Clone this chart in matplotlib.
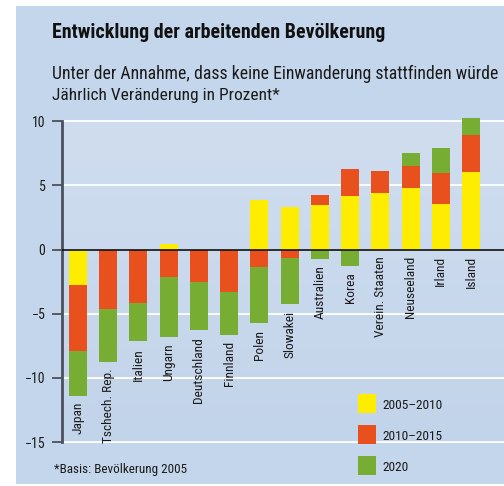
import numpy as np
import matplotlib
matplotlib.use("Agg")
import matplotlib.pyplot as plt
import matplotlib.font_manager as fm
from matplotlib.patches import Rectangle
from matplotlib.colors import LinearSegmentedColormap

# ---------------- data ----------------
countries = ["Japan", "Tschech. Rep.", "Italien", "Ungarn", "Deutschland", "Finnland",
             "Polen", "Slowakei", "Australien", "Korea", "Verein. Staaten", "Neuseeland",
             "Irland", "Island"]
p2005_2010 = [-2.8, 0.0, 0.0, 0.47, 0.0, 0.0, 3.9, 3.3, 3.48, 4.18, 4.42, 4.8, 3.56, 6.05]
p2010_2015 = [-5.1, -4.67, -4.15, -2.13, -2.52, -3.3, -1.35, -0.62, 0.78, 2.1, 1.71, 1.72, 2.41, 2.88]
p2020 = [-3.48, -4.13, -3.01, -4.72, -3.78, -3.32, -4.41, -3.66, -0.7, -1.25, 0.0, 1.01, 1.95, 1.33]
series_names = ["2005\u20132010", "2010\u20132015", "2020"]
yticks = [10, 5, 0, -5, -10, -15]

title = "Entwicklung der arbeitenden Bevölkerung"
subtitle1 = "Unter der Annahme, dass keine Einwanderung stattfinden würde"
subtitle2 = "Jährlich Veränderung in Prozent*"
footnote = "*Basis: Bevölkerung 2005"

colors = ["#ffed00", "#e8501e", "#77ad32"]

# ---------------- fonts ----------------
names = {f.name for f in fm.fontManager.ttflist}
fam = "DejaVu Sans"
stretch = "normal"
for cand in ["Liberation Sans Narrow", "Roboto Condensed", "Open Sans Condensed", "Noto Sans Condensed"]:
    if cand in names:
        fam = cand
        break
else:
    if any(f.name == "DejaVu Sans" and f.stretch == "condensed" for f in fm.fontManager.ttflist):
        stretch = "condensed"
plt.rcParams["font.family"] = [fam, "DejaVu Sans"]
plt.rcParams["font.stretch"] = stretch

W, H = 504, 486
fig = plt.figure(figsize=(W / 100, H / 100), dpi=100, facecolor="white")

def fx(px):
    return px / W

def fy(py):
    return 1 - py / H

panel_col = "#c4d6eb"
fig.add_artist(Rectangle((fx(16), fy(484)), fx(504 - 16), (484 - 6) / H,
                         transform=fig.transFigure, facecolor=panel_col,
                         edgecolor="none", zorder=-10))

ax = fig.add_axes([fx(61.7), fy(442), 1 - fx(61.7), (442 - 121.3) / H])
ax.set_facecolor("none")
n = len(countries)
x = np.arange(n)
xlim = (-0.54, 14.09)
ylim = (-15, 10)
ax.set_xlim(*xlim)
ax.set_ylim(*ylim)

# gradient background of plot area
cmap = LinearSegmentedColormap.from_list("bg", ["#c2d4ea", "#d0ddef"])
ax.imshow(np.linspace(0, 1, 100)[:, None], cmap=cmap, origin="lower",
          extent=(xlim[0], xlim[1], ylim[0], ylim[1]), aspect="auto", zorder=0)

for yv in yticks:
    if yv != 0:
        ax.axhline(yv, color="white", lw=1.3, zorder=1, clip_on=False)

pos = np.zeros(n)
neg = np.zeros(n)
for vals, col in zip([p2005_2010, p2010_2015, p2020], colors):
    v = np.array(vals, dtype=float)
    bottoms = np.where(v >= 0, pos, neg)
    ax.bar(x, v, 0.595, bottom=bottoms, color=col, zorder=2, clip_on=False, linewidth=0)
    pos = pos + np.where(v > 0, v, 0)
    neg = neg + np.where(v < 0, v, 0)

ax.axhline(0, color="#111111", lw=1.2, zorder=3)

for s in ["top", "right", "bottom"]:
    ax.spines[s].set_visible(False)
ax.spines["left"].set_color("#4a505c")
ax.spines["left"].set_linewidth(2.0)
ax.set_yticks(yticks)
ax.set_yticklabels([("\u2212" + str(-t)) if t < 0 else str(t) for t in yticks])
ax.tick_params(axis="y", length=7.2, width=1.3, color="#4a505c", pad=4.5,
               labelsize=10, labelcolor="#1a1a1a")
ax.set_xticks([])

# country labels
lab_objs = []
for i, c in enumerate(countries):
    yb = min(neg[i], 0)
    t = ax.annotate(c, (x[i], yb), xytext=(0, -4.6), textcoords="offset points",
                    rotation=90, ha="center", va="top", fontsize=10.5,
                    color="#1a1a1a", zorder=4)
    lab_objs.append(t)

title_t = fig.text(fx(52), fy(38), title, fontsize=11, fontweight="bold",
                   color="#111111", va="baseline", ha="left")
sub1_t = fig.text(fx(52), fy(79.3), subtitle1, fontsize=11, color="#1a1a1a",
                  va="baseline", ha="left")
sub2_t = fig.text(fx(52), fy(100), subtitle2, fontsize=11, color="#1a1a1a",
                  va="baseline", ha="left")
foot_t = fig.text(fx(54), fy(473), footnote, fontsize=9, color="#1a1a1a",
                  va="baseline", ha="left")

leg_texts = []
for k, (name, col) in enumerate(zip(series_names, colors)):
    top = 394 + k * 31
    fig.add_artist(Rectangle((fx(358), fy(top + 19)), fx(18), 19 / H,
                             transform=fig.transFigure, facecolor=col,
                             edgecolor="none"))
    leg_texts.append(fig.text(fx(382), fy(top + 9.5), name, fontsize=10,
                              color="#1a1a1a", va="center_baseline", ha="left"))

# fit font sizes to reference widths
fig.canvas.draw()
r = fig.canvas.get_renderer()

def fit(t, target):
    w = t.get_window_extent(r).width
    if w > 0:
        t.set_fontsize(t.get_fontsize() * target / w)

fit(title_t, 332)
fit(sub1_t, 446)
fit(sub2_t, 227)
fit(foot_t, 134)
fit(leg_texts[0], 60)
for t in leg_texts[1:]:
    t.set_fontsize(leg_texts[0].get_fontsize())
# labels: fit via "Deutschland" (vertical extent 65 px)
h = lab_objs[4].get_window_extent(r).height
fs_lab = lab_objs[4].get_fontsize() * 66 / h
for t in lab_objs:
    t.set_fontsize(fs_lab)

fig.savefig("out.png", dpi=100, facecolor="white")
